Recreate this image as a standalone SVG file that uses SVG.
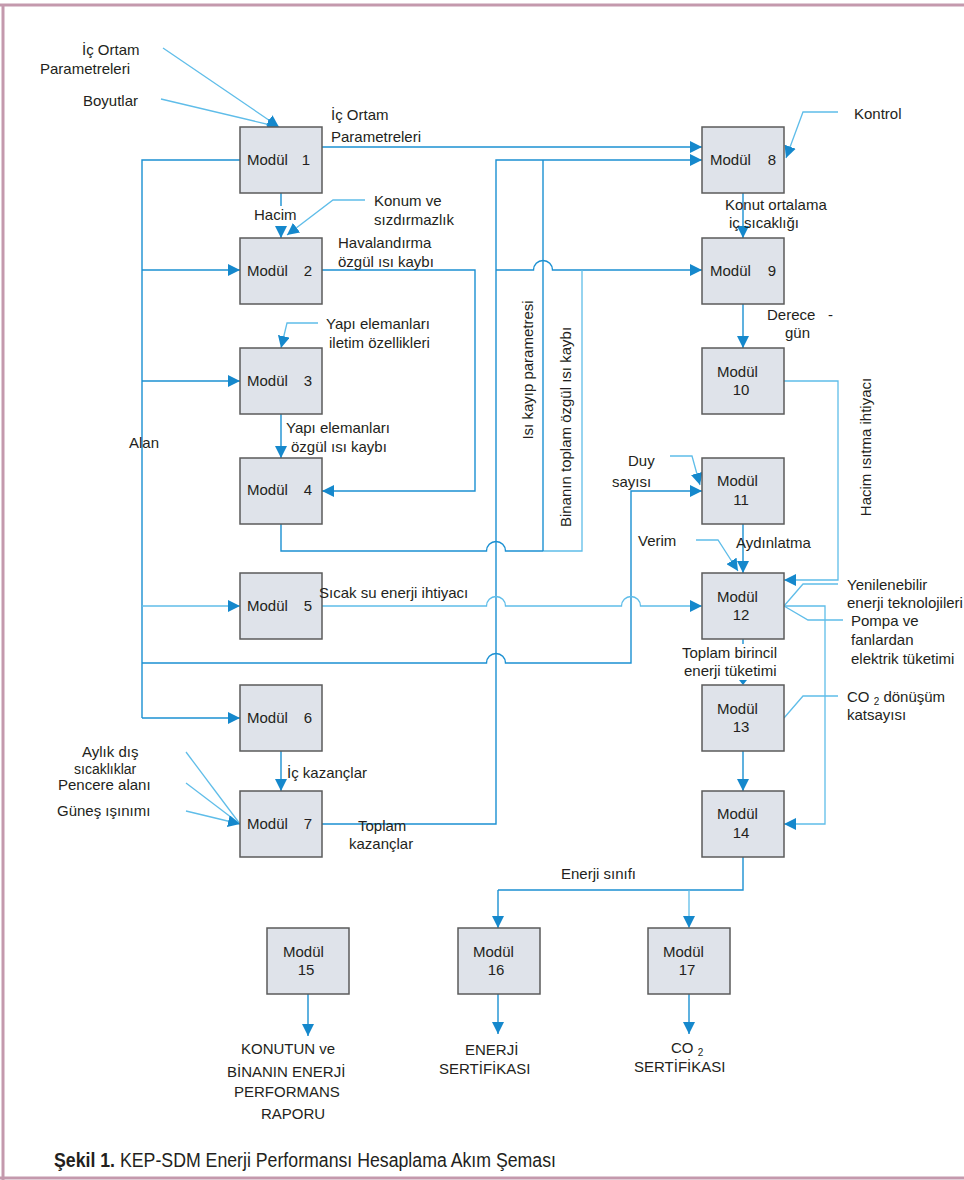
<svg xmlns="http://www.w3.org/2000/svg" width="964" height="1180" viewBox="0 0 964 1180">
<style>
.box{fill:#dfe3ea;stroke:#5b5b5b;stroke-width:1.5}
text{font-family:"Liberation Sans",Arial,sans-serif;font-size:15px;fill:#231f20}
.c{fill:none;stroke:#1b90d2;stroke-width:1.4}
.l{fill:none;stroke:#5fbde9;stroke-width:1.3}
.a{marker-end:url(#ah)}
</style>
<defs>
<marker id="ah" markerUnits="userSpaceOnUse" markerWidth="12" markerHeight="12" viewBox="0 0 10 10" refX="10" refY="5" orient="auto">
<path d="M0,0 L10,5 L0,10 z" fill="#1588cc"/>
</marker>
</defs>
<rect x="0" y="0" width="964" height="1180" fill="#ffffff"/>
<g id="frame" fill="none" stroke="#c499ad" stroke-width="3">
<line x1="0" y1="5" x2="964" y2="5"/>
<line x1="3" y1="5" x2="3" y2="1180"/>
<line x1="0" y1="1178" x2="964" y2="1178"/>
</g>
<g id="connectors">
<path class="l a" d="M163,48 L279,127"/>
<path class="l a" d="M161,99 L279,127"/>
<path class="c a" d="M322,147 L702,147"/>
<path class="c" d="M240,160 L142,160 L142,718"/>
<path class="c a" d="M142,718 L240,718"/>
<path class="c a" d="M142,270 L240,270"/>
<path class="c a" d="M142,381 L240,381"/>
<path class="l a" d="M142,606 L240,606"/>
<path class="c a" d="M142,663 L486.5,663 A9.5,9.5 0 0 1 505.5,663 L631,663 L631,491 L702,491"/>
<path class="c" d="M281,193 L281,206"/>
<path class="c a" d="M281,226 L281,238"/>
<path class="l a" d="M365,200 L333,200 L287,235"/>
<path class="c a" d="M322,270 L475,270 L475,491 L322,491"/>
<path class="l a" d="M318,323 L287,323 L281,348"/>
<path class="c a" d="M281,414 L281,458"/>
<path class="c a" d="M322,824 L496,824 L496,160 L702,160"/>
<path class="c a" d="M496,270 L533.5,270 A9.5,9.5 0 0 1 552.5,270 L702,270"/>
<path class="c" d="M281,524 L281,551 L486.5,551 A9.5,9.5 0 0 1 505.5,551 L543,551"/>
<path class="l" d="M543,551 L582,551 L582,270"/>
<path class="c" d="M543,551 L543,160"/>
<path class="l a" d="M322,606 L486.5,606 A9.5,9.5 0 0 1 505.5,606 L621.5,606 A9.5,9.5 0 0 1 640.5,606 L702,606"/>
<path class="l a" d="M670,456 L692,456 L700,485"/>
<path class="l a" d="M838,112 L803,112 L786,158"/>
<path class="c a" d="M743,193 L743,238"/>
<path class="c a" d="M743,304 L743,348"/>
<path class="l a" d="M784,381 L838,381 L838,580 L784,580"/>
<path class="c a" d="M743,524 L743,573"/>
<path class="l a" d="M696,540 L718,540 L738,571"/>
<path class="l" d="M838,584 L803,584 L784,606"/>
<path class="l" d="M784,606 L808,620 L843,620"/>
<path class="l a" d="M784,606 L825,606 L825,824 L784,824"/>
<path class="c" d="M743,639 L743,644"/>
<path d="M739,680 L747,680 L743,685 z" fill="#1588cc"/>
<path class="l" d="M838,696 L803,696 L784,718"/>
<path class="c a" d="M743,751 L743,791"/>
<path class="c" d="M743,857 L743,890 L498,890"/>
<path class="c a" d="M498,890 L498,928"/>
<path class="l a" d="M689,890 L689,928"/>
<path class="c a" d="M308,994 L308,1036"/>
<path class="c a" d="M498,994 L498,1034"/>
<path class="c a" d="M689,994 L689,1034"/>
<path class="c a" d="M281,751 L281,791"/>
<path class="l" d="M186,752 L240,824"/>
<path class="l" d="M186,783 L240,824"/>
<path class="l a" d="M186,811 L240,824"/>
</g>
<g id="m1"><rect class="box" x="240" y="127" width="82" height="66"/><text x="247" y="165">Modül</text><text x="306" y="165" text-anchor="middle">1</text></g>
<g id="m2"><rect class="box" x="240" y="238" width="82" height="66"/><text x="247" y="276">Modül</text><text x="308" y="276" text-anchor="middle">2</text></g>
<g id="m3"><rect class="box" x="240" y="348" width="82" height="66"/><text x="247" y="386">Modül</text><text x="308" y="386" text-anchor="middle">3</text></g>
<g id="m4"><rect class="box" x="240" y="458" width="82" height="66"/><text x="247" y="495">Modül</text><text x="308" y="495" text-anchor="middle">4</text></g>
<g id="m5"><rect class="box" x="240" y="573" width="82" height="66"/><text x="247" y="611">Modül</text><text x="308" y="611" text-anchor="middle">5</text></g>
<g id="m6"><rect class="box" x="240" y="685" width="82" height="66"/><text x="247" y="723">Modül</text><text x="308" y="723" text-anchor="middle">6</text></g>
<g id="m7"><rect class="box" x="240" y="791" width="82" height="66"/><text x="247" y="829">Modül</text><text x="308" y="829" text-anchor="middle">7</text></g>
<g id="m8"><rect class="box" x="702" y="127" width="82" height="66"/><text x="710" y="165">Modül</text><text x="772" y="165" text-anchor="middle">8</text></g>
<g id="m9"><rect class="box" x="702" y="238" width="82" height="66"/><text x="710" y="276">Modül</text><text x="772" y="276" text-anchor="middle">9</text></g>
<g id="m10"><rect class="box" x="702" y="348" width="82" height="66"/><text x="717" y="377">Modül</text><text x="741" y="395" text-anchor="middle">10</text></g>
<g id="m11"><rect class="box" x="702" y="458" width="82" height="66"/><text x="717" y="486">Modül</text><text x="741" y="505" text-anchor="middle">11</text></g>
<g id="m12"><rect class="box" x="702" y="573" width="82" height="66"/><text x="717" y="602">Modül</text><text x="741" y="620" text-anchor="middle">12</text></g>
<g id="m13"><rect class="box" x="702" y="685" width="82" height="66"/><text x="717" y="714">Modül</text><text x="741" y="732" text-anchor="middle">13</text></g>
<g id="m14"><rect class="box" x="702" y="791" width="82" height="66"/><text x="717" y="819">Modül</text><text x="741" y="838" text-anchor="middle">14</text></g>
<g id="m15"><rect class="box" x="267" y="928" width="82" height="66"/><text x="283" y="957">Modül</text><text x="306" y="975" text-anchor="middle">15</text></g>
<g id="m16"><rect class="box" x="458" y="928" width="82" height="66"/><text x="473" y="957">Modül</text><text x="496" y="975" text-anchor="middle">16</text></g>
<g id="m17"><rect class="box" x="648" y="928" width="82" height="66"/><text x="663" y="957">Modül</text><text x="687" y="975" text-anchor="middle">17</text></g>
<g id="labels">
<text x="82" y="55">İç Ortam</text>
<text x="40" y="74">Parametreleri</text>
<text x="83" y="106">Boyutlar</text>
<text x="331" y="120">İç Ortam</text>
<text x="331" y="142">Parametreleri</text>
<text x="254" y="220">Hacim</text>
<text x="374" y="206">Konum ve</text>
<text x="374" y="225">sızdırmazlık</text>
<text x="338" y="248">Havalandırma</text>
<text x="338" y="267">özgül ısı kaybı</text>
<text x="326" y="329">Yapı elemanları</text>
<text x="329" y="348">iletim özellikleri</text>
<text x="286" y="433">Yapı elemanları</text>
<text x="291" y="452">özgül ısı kaybı</text>
<text x="129" y="448">Alan</text>
<text x="319" y="598">Sıcak su enerji ihtiyacı</text>
<text x="287" y="778">İç kazançlar</text>
<text x="82" y="757">Aylık dış</text>
<text x="74" y="774" font-size="14" style="font-size:14px">sıcaklıklar</text>
<text x="58" y="790">Pencere alanı</text>
<text x="57" y="816">Güneş ışınımı</text>
<text x="358" y="831">Toplam</text>
<text x="349" y="849">kazançlar</text>
<text x="854" y="119">Kontrol</text>
<text x="725" y="210">Konut ortalama</text>
<text x="729" y="228">iç sıcaklığı</text>
<text x="767" y="320">Derece</text>
<text x="828" y="320">-</text>
<text x="785" y="338">gün</text>
<text transform="translate(533,370) rotate(-90)" text-anchor="middle">Isı kayıp parametresi</text>
<text transform="translate(571,427) rotate(-90)" text-anchor="middle">Binanın toplam özgül ısı kaybı</text>
<text transform="translate(871,447) rotate(-90)" text-anchor="middle">Hacim ısıtma ihtiyacı</text>
<text x="628" y="466">Duy</text>
<text x="612" y="487">sayısı</text>
<text x="638" y="546">Verim</text>
<text x="736" y="548">Aydınlatma</text>
<text x="847" y="590">Yenilenebilir</text>
<text x="847" y="608">enerji teknolojileri</text>
<text x="851" y="626">Pompa ve</text>
<text x="851" y="645">fanlardan</text>
<text x="851" y="664">elektrik tüketimi</text>
<text x="682" y="658">Toplam birincil</text>
<text x="684" y="676">enerji tüketimi</text>
<text x="847" y="702">CO <tspan font-size="10" dy="3">2</tspan><tspan dy="-3"> dönüşüm</tspan></text>
<text x="847" y="720">katsayısı</text>
<text x="561" y="879">Enerji sınıfı</text>
<text x="241" y="1054">KONUTUN ve</text>
<text x="227" y="1077">BİNANIN ENERJİ</text>
<text x="234" y="1097">PERFORMANS</text>
<text x="261" y="1119">RAPORU</text>
<text x="465" y="1055">ENERJİ</text>
<text x="439" y="1074">SERTİFİKASI</text>
<text x="671" y="1053">CO <tspan font-size="10" dy="3">2</tspan></text>
<text x="634" y="1072">SERTİFİKASI</text>
</g>
<g id="caption">
<text x="54" y="1167" font-weight="bold" textLength="61" lengthAdjust="spacingAndGlyphs" style="font-size:20px">Şekil 1.</text>
<text x="120" y="1167" textLength="436" lengthAdjust="spacingAndGlyphs" style="font-size:20px">KEP-SDM Enerji Performansı Hesaplama Akım Şeması</text>
</g>
</svg>
